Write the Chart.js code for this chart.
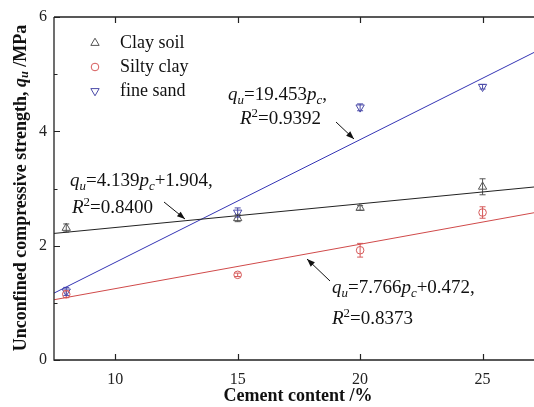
<!DOCTYPE html>
<html>
<head>
<meta charset="utf-8">
<script src="https://cdn.jsdelivr.net/npm/chart.js@4.4.1/dist/chart.umd.min.js"></script>
<style>
  html, body { margin: 0; padding: 0; background: #fff; overflow: hidden; }
  canvas { display: block; }
</style>
</head>
<body>
<canvas id="c" width="534" height="407"></canvas>
<script>
// Cement content (%) of the tested mixes
const cement = [8, 15, 20, 25];

// Mean unconfined compressive strength (MPa) and error-bar half widths
const clayQu = [2.31, 2.48, 2.66, 3.03];
const clayErr = [0.07, 0.06, 0.04, 0.14];
const siltyQu = [1.15, 1.49, 1.92, 2.58];
const siltyErr = [0.06, 0.03, 0.12, 0.10];
const sandQu = [1.20, 2.58, 4.42, 4.78];
const sandErr = [0.07, 0.08, 0.06, 0.04];

// Fitted trend lines, evaluated at the ends of the cement axis
const fitX = [7.5, 27.1];
const clayFit = [2.214, 3.026];
const siltyFit = [1.054, 2.576];
const sandFit = [1.17, 5.38];

// Axis ticks
const xTicks = [10, 15, 20, 25];
const yTicks = [0, 2, 4, 6];
const yMinorTicks = [1, 3, 5];

const SERIF = '"Liberation Serif", "Times New Roman", serif';
const COLORS = {
  clay: '#555555', clayLine: '#222222',
  silty: '#d65a5a', siltyLine: '#d04a4a',
  sand: '#4a4aa8', sandLine: '#3434b4'
};

const pts = (xs, ys) => xs.map((x, i) => ({ x: x, y: ys[i] }));

const markerSets = [
  { label: 'Clay soil', data: pts(cement, clayQu), err: clayErr, pointStyle: 'triangle', pointRotation: 0, radius: 4.8, color: COLORS.clay },
  { label: 'Silty clay', data: pts(cement, siltyQu), err: siltyErr, pointStyle: 'circle', pointRotation: 0, radius: 3.8, color: COLORS.silty },
  { label: 'fine sand', data: pts(cement, sandQu), err: sandErr, pointStyle: 'triangle', pointRotation: 180, radius: 4.8, color: COLORS.sand }
];

const lineSets = [
  { data: pts(fitX, clayFit), color: COLORS.clayLine },
  { data: pts(fitX, siltyFit), color: COLORS.siltyLine },
  { data: pts(fitX, sandFit), color: COLORS.sandLine }
];

const datasets = [];
lineSets.forEach(l => datasets.push({
  type: 'line', data: l.data, borderColor: l.color, borderWidth: 1,
  pointRadius: 0, fill: false, order: 2
}));
markerSets.forEach(m => datasets.push({
  type: 'scatter', label: m.label, data: m.data, err: m.err,
  pointStyle: m.pointStyle, rotation: m.pointRotation,
  pointRadius: m.radius, pointHoverRadius: m.radius,
  borderColor: m.color, backgroundColor: 'rgba(255,255,255,0)', borderWidth: 1, order: 1
}));

// Draws a run of text pieces: italic, subscript and superscript segments
function drawRich(ctx, x, y, parts, size) {
  let cx = x;
  parts.forEach(p => {
    const sz = (p.sub || p.sup) ? size * 0.68 : size;
    ctx.font = (p.i ? 'italic ' : '') + (p.b ? 'bold ' : '') + sz + 'px ' + SERIF;
    let dy = 0;
    if (p.sub) dy = size * 0.22;
    if (p.sup) dy = -size * 0.38;
    ctx.fillText(p.t, cx, y + dy);
    cx += ctx.measureText(p.t).width;
  });
  return cx - x;
}
function richWidth(ctx, parts, size) {
  let w = 0;
  parts.forEach(p => {
    const sz = (p.sub || p.sup) ? size * 0.68 : size;
    ctx.font = (p.i ? 'italic ' : '') + (p.b ? 'bold ' : '') + sz + 'px ' + SERIF;
    w += ctx.measureText(p.t).width;
  });
  return w;
}

function arrow(ctx, x1, y1, x2, y2) {
  ctx.save();
  ctx.strokeStyle = '#111';
  ctx.fillStyle = '#111';
  ctx.lineWidth = 1;
  ctx.beginPath();
  ctx.moveTo(x1, y1);
  ctx.lineTo(x2, y2);
  ctx.stroke();
  const a = Math.atan2(y2 - y1, x2 - x1);
  const L = 8, W = 3;
  ctx.beginPath();
  ctx.moveTo(x2, y2);
  ctx.lineTo(x2 - L * Math.cos(a) + W * Math.sin(a), y2 - L * Math.sin(a) - W * Math.cos(a));
  ctx.lineTo(x2 - L * Math.cos(a) - W * Math.sin(a), y2 - L * Math.sin(a) + W * Math.cos(a));
  ctx.closePath();
  ctx.fill();
  ctx.restore();
}

const decorations = {
  id: 'decorations',
  beforeDatasetsDraw(chart) {
    const { ctx, scales: { x, y } } = chart;
    // error bars
    ctx.save();
    ctx.lineWidth = 1;
    chart.data.datasets.forEach(ds => {
      if (!ds.err) return;
      ctx.strokeStyle = ds.borderColor;
      ds.data.forEach((p, i) => {
        const px = x.getPixelForValue(p.x);
        const top = y.getPixelForValue(p.y + ds.err[i]);
        const bot = y.getPixelForValue(p.y - ds.err[i]);
        ctx.beginPath();
        ctx.moveTo(px, top); ctx.lineTo(px, bot);
        ctx.moveTo(px - 3, top); ctx.lineTo(px + 3, top);
        ctx.moveTo(px - 3, bot); ctx.lineTo(px + 3, bot);
        ctx.stroke();
      });
    });
    ctx.restore();
  },
  afterDraw(chart) {
    const { ctx, chartArea: a, scales: { x, y } } = chart;
    ctx.save();
    // axes frame (left, bottom, top)
    ctx.strokeStyle = '#222';
    ctx.lineWidth = 1.3;
    ctx.beginPath();
    ctx.moveTo(a.left, a.top); ctx.lineTo(a.right, a.top);
    ctx.moveTo(a.left, a.top); ctx.lineTo(a.left, a.bottom);
    ctx.lineTo(a.right, a.bottom);
    ctx.stroke();
    // inward ticks
    ctx.lineWidth = 1.2;
    ctx.beginPath();
    xTicks.forEach(v => {
      const px = Math.round(x.getPixelForValue(v)) + 0.5;
      ctx.moveTo(px, a.bottom); ctx.lineTo(px, a.bottom - 6);
      ctx.moveTo(px, a.top); ctx.lineTo(px, a.top + 6);
    });
    yTicks.forEach(v => {
      const py = Math.round(y.getPixelForValue(v)) + 0.5;
      ctx.moveTo(a.left, py); ctx.lineTo(a.left + 6, py);
    });
    yMinorTicks.forEach(v => {
      const py = Math.round(y.getPixelForValue(v)) + 0.5;
      ctx.moveTo(a.left, py); ctx.lineTo(a.left + 3.5, py);
    });
    ctx.stroke();

    // legend
    markerSets.forEach((m, i) => {
      const ly = 43 + i * 24;
      ctx.strokeStyle = m.color;
      ctx.fillStyle = 'rgba(255,255,255,0)';
      ctx.lineWidth = 1;
      Chart.helpers.drawPoint(ctx, {
        pointStyle: m.pointStyle, rotation: m.pointRotation, radius: m.radius, borderWidth: 1
      }, 95, ly);
      ctx.fillStyle = '#111';
      ctx.font = '18px ' + SERIF;
      ctx.textBaseline = 'middle';
      ctx.textAlign = 'left';
      ctx.fillText(m.label, 120, ly);
    });

    // fit equations
    ctx.fillStyle = '#111';
    ctx.textBaseline = 'alphabetic';
    ctx.textAlign = 'left';
    const fs = 19;
    drawRich(ctx, 228, 100, [{ t: 'q', i: true }, { t: 'u', i: true, sub: true }, { t: '=19.453' }, { t: 'p', i: true }, { t: 'c', i: true, sub: true }, { t: ',' }], fs);
    drawRich(ctx, 240, 124, [{ t: 'R', i: true }, { t: '2', sup: true }, { t: '=0.9392' }], fs);
    arrow(ctx, 336, 122, 354, 139);

    drawRich(ctx, 70, 186, [{ t: 'q', i: true }, { t: 'u', i: true, sub: true }, { t: '=4.139' }, { t: 'p', i: true }, { t: 'c', i: true, sub: true }, { t: '+1.904,' }], fs);
    drawRich(ctx, 72, 213, [{ t: 'R', i: true }, { t: '2', sup: true }, { t: '=0.8400' }], fs);
    arrow(ctx, 164, 202, 185, 219);

    drawRich(ctx, 332, 293, [{ t: 'q', i: true }, { t: 'u', i: true, sub: true }, { t: '=7.766' }, { t: 'p', i: true }, { t: 'c', i: true, sub: true }, { t: '+0.472,' }], fs);
    drawRich(ctx, 332, 324, [{ t: 'R', i: true }, { t: '2', sup: true }, { t: '=0.8373' }], fs);
    arrow(ctx, 330, 281, 307, 259);

    // axis titles
    ctx.font = 'bold 18px ' + SERIF;
    ctx.textAlign = 'center';
    ctx.textBaseline = 'middle';
    ctx.fillText('Cement content /%', 298, 396);

    const yParts = [{ t: 'Unconfined compressive strength, ', b: true }, { t: 'q', b: true, i: true }, { t: 'u', b: true, i: true, sub: true }, { t: ' /MPa', b: true }];
    ctx.save();
    ctx.translate(21, 188);
    ctx.rotate(-Math.PI / 2);
    ctx.textAlign = 'left';
    const w = richWidth(ctx, yParts, 18);
    drawRich(ctx, -w / 2, 0, yParts, 18);
    ctx.restore();

    ctx.restore();
  }
};

new Chart(document.getElementById('c'), {
  data: { datasets: datasets },
  options: {
    responsive: false,
    animation: false,
    events: [],
    layout: { autoPadding: false, padding: { top: 17, right: 0, left: 0, bottom: 0 } },
    plugins: { legend: { display: false }, tooltip: { enabled: false } },
    scales: {
      x: {
        type: 'linear', min: 7.5, max: 27.1,
        afterBuildTicks: s => { s.ticks = xTicks.map(v => ({ value: v })); },
        afterFit: s => { s.height = 47; s.paddingLeft = 0; s.paddingRight = 0; },
        grid: { display: false, drawTicks: false },
        border: { display: false },
        ticks: { padding: 10, color: '#222', font: { family: SERIF, size: 16 }, maxRotation: 0 }
      },
      y: {
        type: 'linear', min: 0, max: 6,
        afterBuildTicks: s => { s.ticks = yTicks.map(v => ({ value: v })); },
        afterFit: s => { s.width = 54; s.paddingTop = 0; s.paddingBottom = 0; },
        grid: { display: false, drawTicks: false },
        border: { display: false },
        ticks: { padding: 7, color: '#222', font: { family: SERIF, size: 16 } }
      }
    }
  },
  plugins: [decorations]
});
</script>
</body>
</html>
